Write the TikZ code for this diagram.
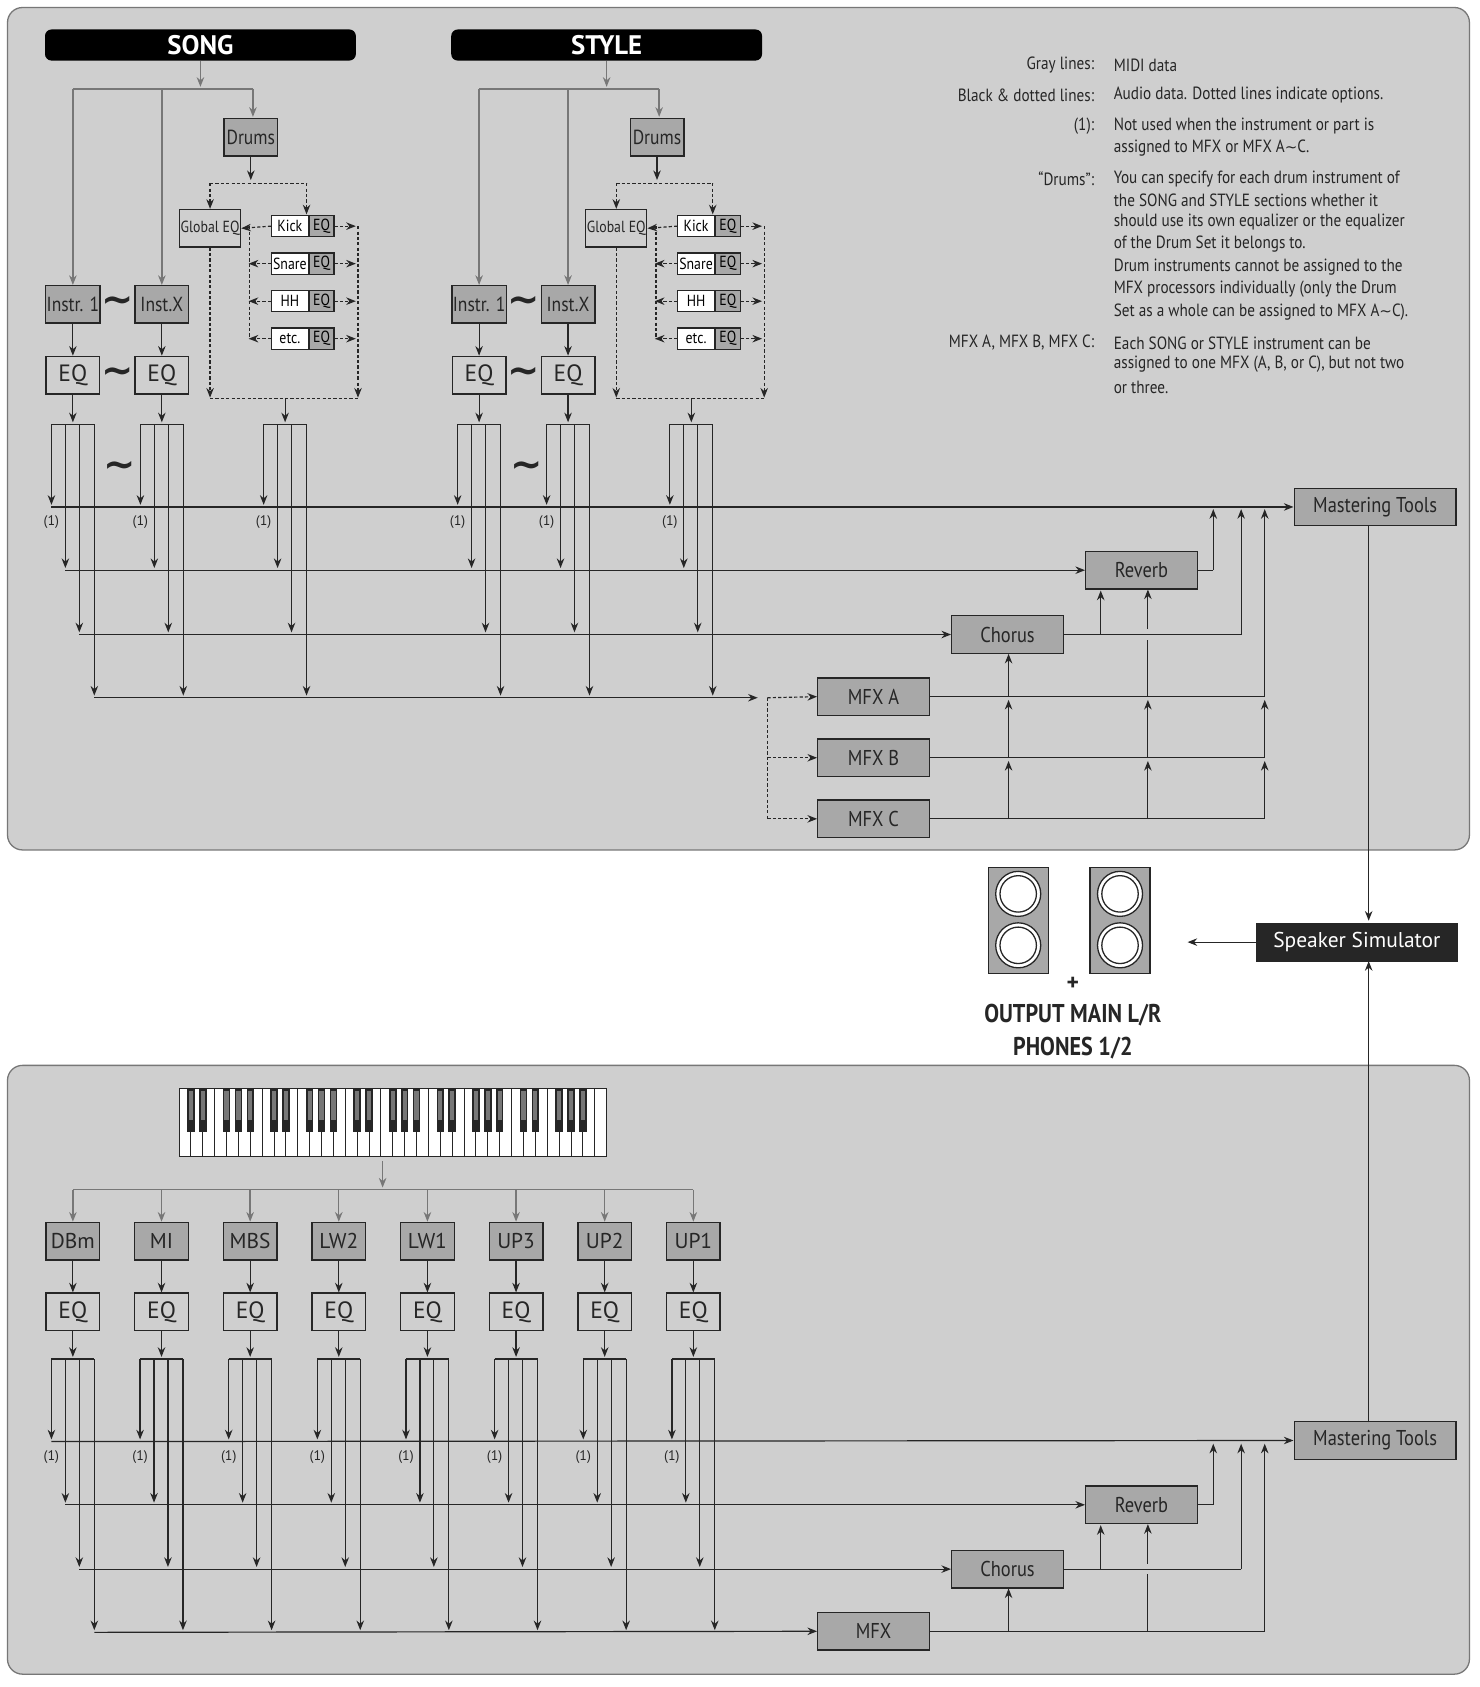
\documentclass[tikz,border=0pt]{standalone}
\usepackage{fontspec}
\setmainfont{PT Sans}
\newfontfamily\cond[FakeStretch=0.86]{PT Sans}
\newfontfamily\dv{DejaVu Sans}
\usetikzlibrary{arrows.meta}
\definecolor{panel}{HTML}{CFCFCF}
\definecolor{boxg}{HTML}{A8A8A8}
\definecolor{midi}{HTML}{777777}
\definecolor{ink}{HTML}{262626}
\tikzset{
 arr/.style={draw=ink,line width=1.1pt,-{Stealth[length=9pt,width=7pt]}},
 ln/.style={draw=ink,line width=1.1pt},
 garr/.style={draw=midi,line width=1.3pt,-{Stealth[length=9pt,width=7pt]}},
 gln/.style={draw=midi,line width=1.3pt},
 darr/.style={draw=ink,line width=1.1pt,dash pattern=on 3pt off 2pt,-{Stealth[length=9pt,width=7pt]}},
 dln/.style={draw=ink,line width=1.1pt,dash pattern=on 3pt off 2pt},
 box/.style={draw=ink,line width=1.3pt,fill=boxg,minimum width=50pt,minimum height=35pt,inner sep=1pt,font=\cond\fontsize{19}{20}\selectfont,text=ink},
 eq/.style={box,fill=panel,font=\fontsize{22}{24}\selectfont},
 fx/.style={box,minimum width=104pt,font=\cond\fontsize{20}{22}\selectfont},
 dr/.style={draw=ink,line width=1.1pt,fill=white,minimum width=34pt,minimum height=20pt,inner sep=0pt,font=\cond\fontsize{15}{16}\selectfont},
 dre/.style={dr,fill=boxg,minimum width=23pt},
 one/.style={font=\fontsize{13}{14}\selectfont,text=ink},
 til/.style={font=\dv\bfseries\fontsize{36}{36}\selectfont,text=ink,inner sep=0pt},
 leg/.style={font=\cond\fontsize{16.5}{21}\selectfont,text=ink,inner sep=0pt},
 banner/.style={fill=black,rounded corners=6pt,minimum width=290pt,minimum height=29pt,text=white,font=\bfseries\fontsize{25}{25}\selectfont}
}
\newcommand\tl{{\dv\fontsize{14}{14}\selectfont\char"007E}}
% splitter: cx, y offset
\newcommand\mysplit[2]{%
 \draw[ln] (#1-20,396+#2) -- (#1+20,396+#2);
 \draw[arr] (#1-20,396+#2) -- (#1-20,471+#2);
 \draw[arr] (#1-7,396+#2) -- (#1-7,530+#2);
 \draw[arr] (#1+6,396+#2) -- (#1+6,590+#2);
 \draw[arr] (#1+20,396+#2) -- (#1+20,649+#2);
 \node[one] at (#1-20,487+#2) {(1)};}
% drum block, x offset
\newcommand\mydrums[2]{%
 \node[box] (dr#2) at (234+#1,128) {Drums};
 \node[box,fill=panel,minimum width=49pt,font=\cond\fontsize{15}{16}\selectfont] (geq#2) at (196+#1,213) {Global EQ};
 \draw[arr] (dr#2.south) -- (234+#1,168);
 \draw[dln] (196+#1,171) -- (286+#1,171);
 \draw[darr] (196+#1,171) -- (geq#2.north);
 \foreach \n/\t [count=\i] in {a/Kick,b/Snare,c/HH,d/etc.}{
  \pgfmathsetmacro\yy{176+35*\i}
  \node[dr,anchor=east] (k#2\n) at (288+#1,\yy) {\t};
  \node[dre,anchor=west] (e#2\n) at (288+#1,\yy) {EQ};
  \draw[darr] (e#2\n.east) -- (332+#1,\yy);
 }
 \draw[darr] (286+#1,171) -- (286+#1,200);
 \draw[darr] (k#2a.west) -- (geq#2.east);
 \draw[dln] (233+#1,211) -- (233+#1,316);
 \draw[darr] (k#2b.west) -- (232+#1,246);
 \draw[darr] (k#2c.west) -- (232+#1,281);
 \draw[darr] (k#2d.west) -- (232+#1,316);
 \draw[dln] (334+#1,211) -- (334+#1,352);
 \draw[darr] (334+#1,352) -- (334+#1,371);
 \draw[darr] (geq#2.south) -- (196+#1,371);
 \draw[dln] (196+#1,372) -- (334+#1,372);
 \draw[arr] (266+#1,372) -- (266+#1,394);
 \mysplit{266+#1}{0}}
% instr pair, x offset
\newcommand\myinst[2]{%
 \node[box] (i1#2) at (68+#1,284) {Instr. 1};
 \node[box] (ix#2) at (151+#1,284) {Inst.X};
 \node[eq] (q1#2) at (68+#1,350) {EQ};
 \node[eq] (qx#2) at (151+#1,350) {EQ};
 \node[til] at (110+#1,284) {\char"007E};
 \node[til] at (110+#1,350) {\char"007E};
 \node[til] at (112+#1,438) {\char"007E};
 \draw[arr] (i1#2.south) -- (q1#2.north);
 \draw[arr] (ix#2.south) -- (qx#2.north);
 \draw[arr] (q1#2.south) -- (68+#1,394);
 \draw[arr] (qx#2.south) -- (151+#1,394);
 \mysplit{68+#1}{0}\mysplit{151+#1}{0}
 \node[banner] (bn#2) at (187+#1,42) {#2};
 \draw[garr] (bn#2.south) -- (187+#1,81);
 \draw[gln] (68+#1,83) -- (236+#1,83);
 \draw[garr] (68+#1,83) -- (i1#2.north);
 \draw[garr] (151+#1,83) -- (ix#2.north);
 \draw[garr] (236+#1,83) -- (236+#1,109);}
% effects right part, with y offset
\newcommand\myfx[2]{%
 \node[fx] (rv#2) at (1065,532+#1) {Reverb};
 \node[fx] (ch#2) at (940,592+#1) {Chorus};
 \node[fx,minimum width=151pt] (ms#2) at (1283,473+#1) {Mastering Tools};
 \draw[ln] (ch#2.east) -- (1158,592+#1);
 \draw[arr] (1158,592+#1) -- (1158,475+#1);
 \draw[arr] (1027,592+#1) -- (1027,551+#1);
 \draw[ln] (rv#2.east) -- (1132,532+#1);
 \draw[arr] (1132,532+#1) -- (1132,475+#1);}
\begin{document}
\begin{tikzpicture}[x=1pt,y=-1pt]
\useasboundingbox (0,0) rectangle (1380,1574);
\fill[white] (0,0) rectangle (1380,1574);
\draw[line width=1.2pt,draw=midi,fill=panel,rounded corners=14pt] (7,7) rectangle (1371,793);
\draw[line width=1.2pt,draw=midi,fill=panel,rounded corners=14pt] (7,994) rectangle (1371,1562);
% ---------- top
\myinst{0}{SONG}
\myinst{379}{STYLE}
\mydrums{0}{S}
\mydrums{379}{T}
\myfx{0}{T}
\node[fx] (ma) at (815,650) {MFX A};
\node[fx] (mb) at (815,707) {MFX B};
\node[fx] (mc) at (815,764) {MFX C};
\draw[arr] (48,473) -- (msT.west);
\draw[arr] (61,532) -- (rvT.west);
\draw[arr] (74,592) -- (chT.west);
\draw[arr] (88,651) -- (707,651);
\draw[darr] (716,651) -- (ma.west);
\draw[dln] (716,651) -- (716,764);
\draw[darr] (716,707) -- (mb.west);
\draw[darr] (716,764) -- (mc.west);
\foreach \xx in {941,1071,1180}{
 \draw[arr] (\xx,764) -- (\xx,710);
 \draw[arr] (\xx,707) -- (\xx,653);}
\draw[ln] (ma.east) -- (1180,650);
\draw[ln] (mb.east) -- (1180,707);
\draw[ln] (mc.east) -- (1180,764);
\draw[arr] (941,650) -- (941,610);
\draw[ln] (1071,650) -- (1071,597);
\draw[arr] (1071,587) -- (1071,550);
\draw[arr] (1180,650) -- (1180,475);
% legend
\foreach \y/\a/\b in {61/Gray lines:/MIDI data,89/Black \& dotted lines:/Audio data. Dotted lines indicate options.,118/(1):/Not used when the instrument or part is,138//assigned to MFX or MFX A\tl C.,167/“Drums”:/You can specify for each drum instrument of,187//the SONG and STYLE sections whether it,207//should use its own equalizer or the equalizer,228//of the Drum Set it belongs to.,249//Drum instruments cannot be assigned to the,270//MFX processors individually (only the Drum,291//Set as a whole can be assigned to MFX A\tl C).,320/{MFX A, MFX B, MFX C:}/Each SONG or STYLE instrument can be,340//{assigned to one MFX (A, B, or C), but not two},361//or three.}{
 \node[leg,anchor=east] at (1021,\y) {\a};
 \node[leg,anchor=west] at (1039,\y) {\b};}
% ---------- middle
\draw[arr] (1277,490) -- (1277,859);
\node[fill=ink,draw=ink,minimum width=187pt,minimum height=35pt,text=white,font=\fontsize{20}{22}\selectfont] (ss) at (1266,879) {Speaker Simulator};
\draw[arr] (ss.west) -- (1108,879);
\foreach \sx in {950,1045}{
 \draw[ln,fill=boxg] (\sx-28,809) rectangle (\sx+28,908);
 \foreach \sy in {834,882}{
  \draw[ink,line width=1.2pt,fill=white] (\sx,\sy) circle (21pt);
  \draw[ink,line width=1.2pt] (\sx,\sy) circle (17pt);}}
\node[font=\bfseries\fontsize{22}{22}\selectfont,text=ink] at (1001,918) {+};
\node[font=\cond\bfseries\fontsize{24}{24}\selectfont,text=ink] at (1001,947) {OUTPUT MAIN L/R};
\node[font=\cond\bfseries\fontsize{24}{24}\selectfont,text=ink] at (1001,978) {PHONES 1/2};
% ---------- bottom
\node[fx,minimum width=151pt] (msB) at (1283,1344) {Mastering Tools};
\draw[arr] (1277,1327) -- (ss.south -| 1277,0);
% keyboard
\fill[white] (167,1016) rectangle (566,1079);
\foreach \k in {0,...,35}{\draw[ink,line width=0.9pt] (167+\k*11.083,1016) rectangle (167+\k*11.083+11.083,1079);}
\foreach \k in {0,...,34}{
 \pgfmathtruncatemacro\m{mod(\k,7)}
 \ifnum\m=2\else\ifnum\m=6\else
  \fill[ink] (167+\k*11.083+11.083-3.5,1016) rectangle (167+\k*11.083+11.083+3.5,1056);
  \fill[midi] (167+\k*11.083+11.083-2,1018) rectangle (167+\k*11.083+11.083+2,1045);
 \fi\fi}
\draw[garr] (357,1083) -- (357,1108);
\draw[gln] (68,1110) -- (647,1110);
\foreach \t [count=\i] in {DBm,MI,MBS,LW2,LW1,UP3,UP2,UP1}{
 \pgfmathsetmacro\cx{68+82.7*(\i-1)}
 \node[box,font=\fontsize{20}{22}\selectfont] (p\i) at (\cx,1158) {\t};
 \node[eq] (pe\i) at (\cx,1224) {EQ};
 \draw[garr] (\cx,1110) -- (p\i.north);
 \draw[arr] (p\i.south) -- (pe\i.north);
 \draw[arr] (pe\i.south) -- (\cx,1266);
 \mysplit{\cx}{872}}
\node[fx] (rvB) at (1065,1404) {Reverb};
\node[fx] (chB) at (940,1464) {Chorus};
\node[fx] (mx) at (815,1522) {MFX};
\draw[arr] (48,1345) -- (msB.west);
\draw[arr] (61,1404) -- (rvB.west);
\draw[arr] (74,1464) -- (chB.west);
\draw[arr] (88,1523) -- (mx.west);
\draw[ln] (chB.east) -- (1158,1464);
\draw[arr] (1158,1464) -- (1158,1347);
\draw[arr] (1027,1464) -- (1027,1423);
\draw[ln] (rvB.east) -- (1132,1404);
\draw[arr] (1132,1404) -- (1132,1347);
\draw[ln] (mx.east) -- (1180,1522);
\draw[arr] (1180,1522) -- (1180,1347);
\draw[arr] (941,1522) -- (941,1482);
\draw[ln] (1071,1522) -- (1071,1469);
\draw[arr] (1071,1459) -- (1071,1422);
\end{tikzpicture}
\end{document}
